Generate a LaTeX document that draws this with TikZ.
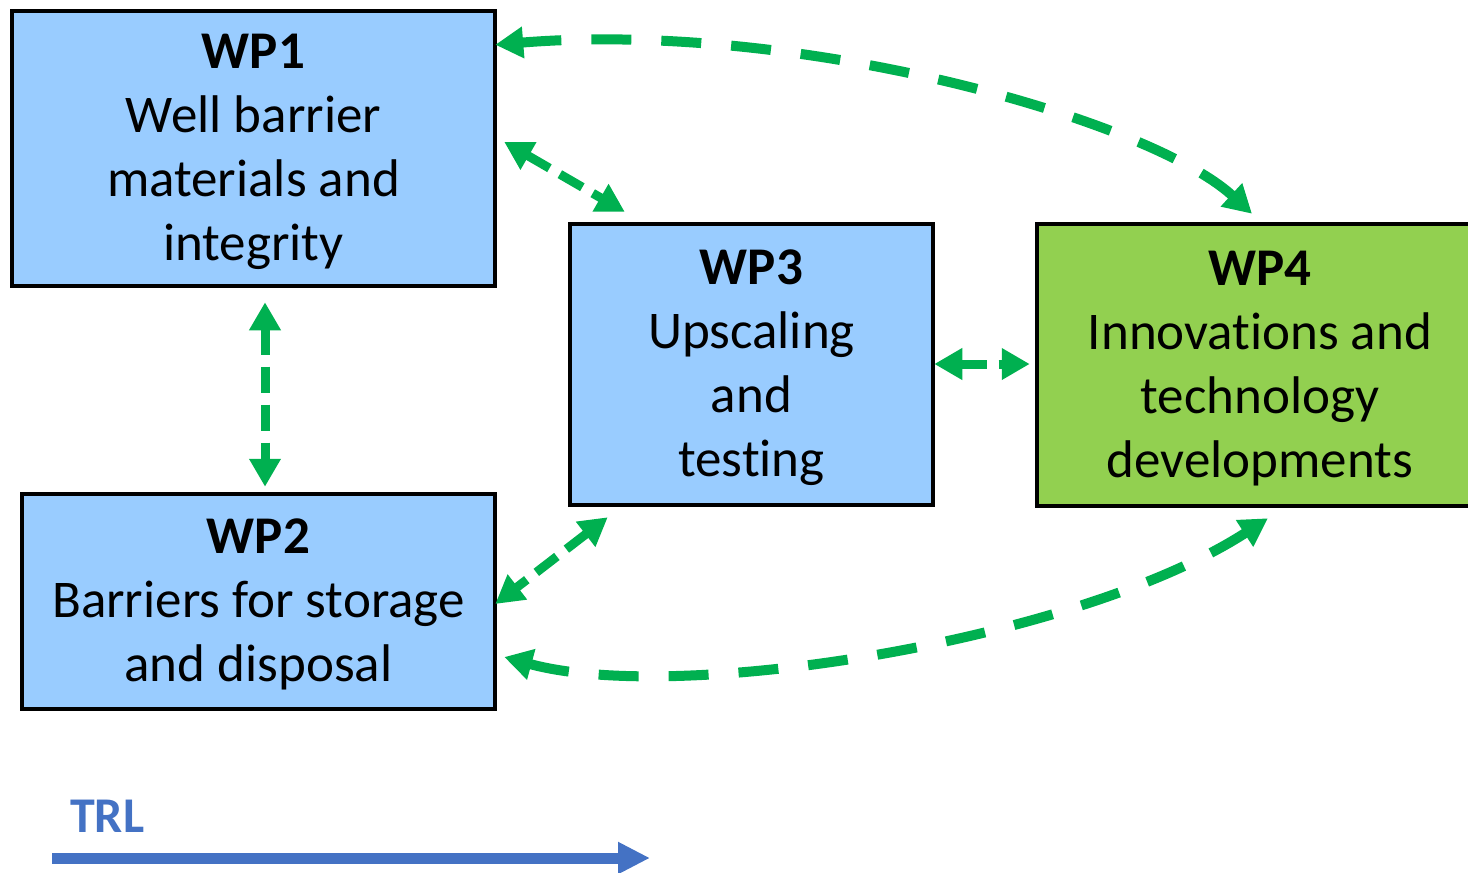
\documentclass[tikz,border=0pt]{standalone}
\usepackage{fontspec}
\setmainfont{Carlito}[Ligatures=NoCommon]
\usetikzlibrary{arrows.meta,calc}
\definecolor{boxblue}{HTML}{99CCFF}
\definecolor{boxgreen}{HTML}{92D050}
\definecolor{linkgreen}{HTML}{00B050}
\definecolor{trlblue}{HTML}{4472C4}
\newcommand{\toppad}{\rule{0pt}{41pt}}
\begin{document}
\begin{tikzpicture}[x=1pt,y=-1pt,
  wpbox/.style={draw=black, line width=4.5pt, rectangle, inner sep=0pt, align=center,
    font=\fontsize{53}{64}\selectfont},
  link/.style={draw=linkgreen, line width=9pt, {Triangle[length=28pt,width=30pt]}-{Triangle[length=28pt,width=30pt]},
    dash pattern=on 26pt off 12pt},
  longlink/.style={link, line width=10pt, dash pattern=on 40pt off 30pt}]
\useasboundingbox (0,0) rectangle (1468,873);

\node[wpbox, fill=boxblue, minimum width=483pt, minimum height=275pt] (wp1) at (253.5,148.5)
  {\toppad\textbf{WP1}\\Well barrier\\materials and\\integrity};
\node[wpbox, fill=boxblue, minimum width=473pt, minimum height=215pt] (wp2) at (258.5,601.5)
  {\toppad\textbf{WP2}\\Barriers for storage\\and disposal};
\node[wpbox, fill=boxblue, minimum width=363pt, minimum height=281pt] (wp3) at (751.5,364.5)
  {\toppad\textbf{WP3}\\Upscaling\\and\\testing};
\node[wpbox, fill=boxgreen, minimum width=446pt, minimum height=282pt] (wp4) at (1260,365)
  {\toppad\textbf{WP4}\\Innovations and\\technology\\developments};

% connector end points
\coordinate (a1) at ($(wp1.north east)+(-2,36)$);
\coordinate (a2) at ($(wp4.north)+(-8,-8)$);
\coordinate (b1) at ($(wp1.east)+(7,-6.5)$);
\coordinate (b2) at ($(wp3.north west)+(57,-10)$);
\coordinate (c1) at ($(wp1.south)+(11.5,14)$);
\coordinate (c2) at ($(wp2.north)+(6.5,-5)$);
\coordinate (d1) at ($(wp3.east)+(-1,-0.5)$);
\coordinate (d2) at ($(wp4.west)+(-5,-1)$);
\coordinate (e1) at ($(wp3.south west)+(40,10)$);
\coordinate (e2) at ($(wp2.east)+(-2,2.5)$);
\coordinate (f1) at ($(wp2.east)+(7,55.5)$);
\coordinate (f2) at ($(wp4.south)+(8,10)$);

\draw[longlink] (a1) .. controls (800,20) and (1150,120) .. (a2);
\draw[link] (b1) -- (b2);
\draw[link] (c1) -- (c2);
\draw[link] (d1) -- (d2);
\draw[link] (e1) -- (e2);
\draw[longlink] (f1) .. controls (680,705) and (1080,640) .. (f2);

\node[text=trlblue, font=\fontsize{50}{60}\selectfont\bfseries, anchor=base west, inner sep=0pt] (trl) at (70,832) {TRL};
\coordinate (t1) at (52,858);
\coordinate (t2) at (650,858);
\draw[draw=trlblue, line width=11pt, -{Triangle[length=32pt,width=30pt]}] (t1) -- (t2);
\end{tikzpicture}
\end{document}
